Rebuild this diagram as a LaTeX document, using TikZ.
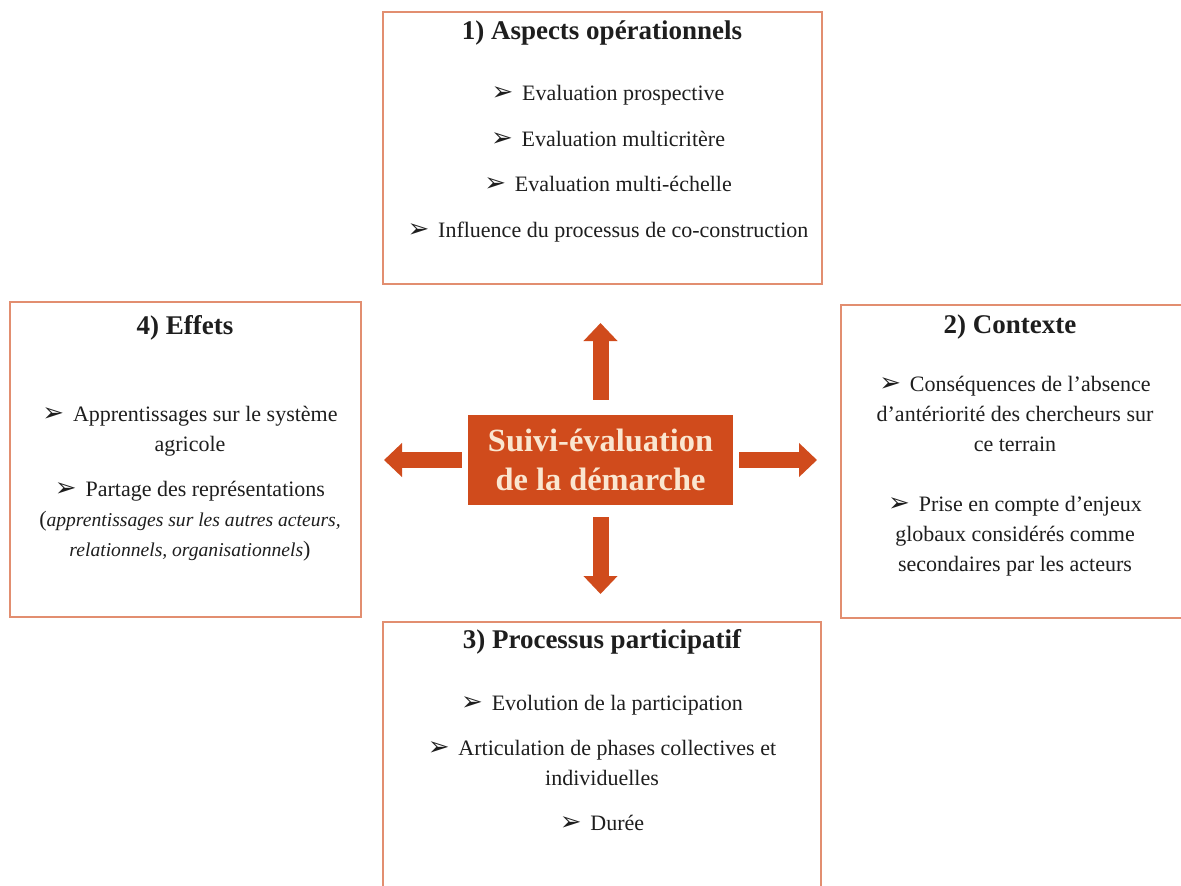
\documentclass[tikz,border=0pt]{standalone}
\usepackage{fontspec}
\setmainfont{Liberation Serif}
\newfontfamily\dejavu{DejaVu Sans}
\usetikzlibrary{arrows.meta}
\definecolor{panelline}{RGB}{226,142,112}
\definecolor{hubfill}{RGB}{208,75,28}
\definecolor{hubtext}{RGB}{250,230,208}
\definecolor{ink}{RGB}{30,30,30}
\newcommand{\pointer}{{\dejavu\bfseries\fontsize{13}{11.5}\selectfont ➢}\hspace{0.4em}}
\newcommand{\aside}[1]{{\fontsize{9.8}{14}\selectfont\itshape #1}}
\tikzset{
	panel/.style={draw=panelline,line width=1pt,fill=white},
	heading/.style={font=\fontsize{13.5}{16}\selectfont\bfseries,text=ink},
	items/.style={font=\fontsize{11}{15}\selectfont,text=ink,align=center},
	hub/.style={fill=hubfill,text=hubtext,align=center,minimum width=132.5pt,
		minimum height=45pt,inner sep=0pt,font=\fontsize{16.2}{19.5}\selectfont\bfseries},
	fatarrow/.style={-{Triangle[width=16.5pt,length=9pt]},line width=8pt,draw=hubfill},
}

\begin{document}
\begin{tikzpicture}[x=0.5pt,y=-0.5pt]
		\useasboundingbox (0,0) rectangle (1181,885);
		
		\node[panel,minimum width=219.5pt,minimum height=136pt] (ops) at (602.5,148) {};
		\node[heading] (opstitle) at (602,33) {1) Aspects opérationnels};
		\node[items] (opsbody) at (608,163.5) {%
			\pointer Evaluation prospective\\[7.8pt]
			\pointer Evaluation multicritère\\[7.8pt]
			\pointer Evaluation multi-échelle\\[7.8pt]
			\pointer Influence du processus de co-construction
		};
		
		\node[panel,minimum width=175.5pt,minimum height=157.5pt] (eff) at (185.5,459.5) {};
		\node[heading] (efftitle) at (185,328) {4) Effets};
		\node[items] (effbody) at (190,484) {%
			\pointer Apprentissages sur le système\\
			agricole\\[7.5pt]
			\pointer Partage des représentations\\
			(\aside{apprentissages sur les autres acteurs,}\\
			\aside{relationnels, organisationnels})
		};
		
		\node[panel,minimum width=173.5pt,minimum height=156.5pt] (ctx) at (1014.5,461.5) {};
		\node[heading] (ctxtitle) at (1010,327) {2) Contexte};
		\node[items] (ctxbody) at (1015,476.5) {%
			\pointer Conséquences de l’absence\\
			d’antériorité des chercheurs sur\\
			ce terrain\\[15pt]
			\pointer Prise en compte d’enjeux\\
			globaux considérés comme\\
			secondaires par les acteurs
		};
		
		\node[panel,minimum width=219pt,minimum height=139pt] (proc) at (602,761) {};
		\node[heading] (proctitle) at (602,642) {3) Processus participatif};
		\node[items] (procbody) at (602,763) {%
			\pointer Evolution de la participation\\[7.5pt]
			\pointer Articulation de phases collectives et\\
			individuelles\\[7.5pt]
			\pointer Durée
		};
		
		\node[hub] (hub) at (600.5,460) {Suivi-évaluation\\de la démarche};
		
		\draw[fatarrow,shorten <=7.5pt,shorten >=19pt] (hub.north) -- (hub.north |- ops.south);
		\draw[fatarrow,shorten <=6pt,shorten >=13.5pt] (hub.south) -- (hub.south |- proc.north);
		\draw[fatarrow,shorten <=3pt,shorten >=11pt] (hub.west) -- (hub.west -| eff.east);
		\draw[fatarrow,shorten <=3pt,shorten >=11.5pt] (hub.east) -- (hub.east -| ctx.west);
	\end{tikzpicture}
\end{document}
